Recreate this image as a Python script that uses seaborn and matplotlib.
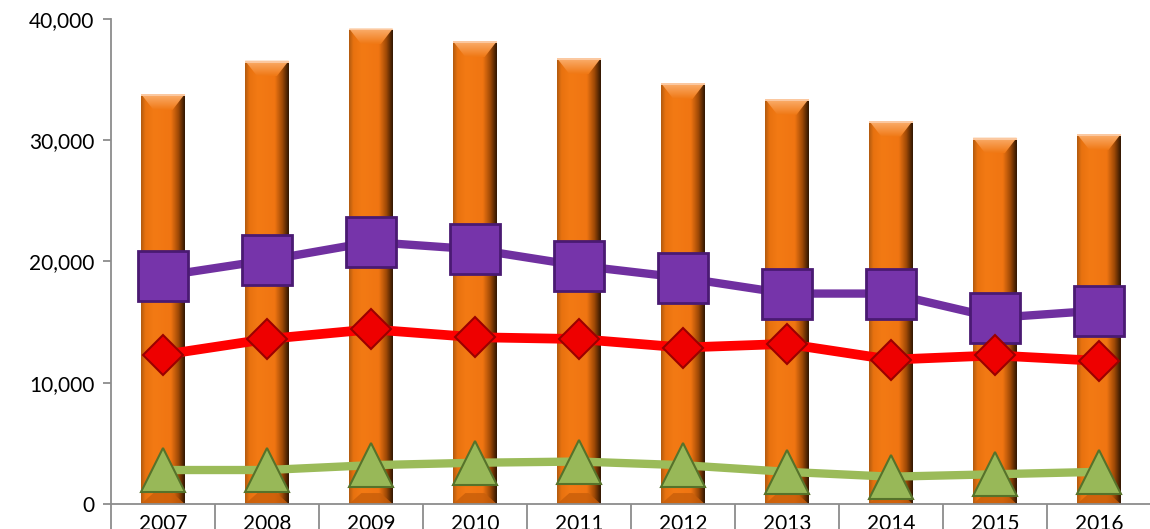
import numpy as np
import pandas as pd
import seaborn as sns
import matplotlib.pyplot as plt
from matplotlib.colors import LinearSegmentedColormap
from matplotlib.patches import Polygon
from matplotlib.ticker import FuncFormatter, FixedLocator

years = ["2007", "2008", "2009", "2010", "2011", "2012", "2013", "2014", "2015", "2016"]
bar_values = [33800, 36550, 39200, 38150, 36750, 34700, 33400, 31600, 30200, 30500]
purple_values = [18800, 20100, 21600, 21000, 19650, 18650, 17350, 17350, 15350, 15950]
red_values = [12300, 13600, 14400, 13750, 13600, 12900, 13200, 11900, 12250, 11800]
green_values = [2800, 2800, 3200, 3400, 3500, 3200, 2650, 2250, 2450, 2650]

df = pd.DataFrame({"year": years, "bars": bar_values, "purple": purple_values,
                   "red": red_values, "green": green_values})

sns.set_style("white")
plt.rcParams["font.family"] = ["Lato", "DejaVu Sans"]

fig = plt.figure(figsize=(11.5, 5.29), dpi=100)
ax = fig.add_axes([0.0965, 0.0473, 0.9043, 0.917])

# orange bars
sns.barplot(data=df, x="year", y="bars", color="#F07814", width=0.42,
            saturation=1, ax=ax, zorder=1)

# shaded "3D" look for bars
cmap = LinearSegmentedColormap.from_list(
    "bar", [(0.0, "#b05a10"), (0.1, "#e8720f"), (0.3, "#f37a14"),
            (0.68, "#f07512"), (0.85, "#a04a06"), (1.0, "#2e1502")])
top_cmap = LinearSegmentedColormap.from_list("top", ["#f07814", "#fbb070"])
grad = np.linspace(0, 1, 256).reshape(1, -1)
vgrad = np.linspace(0, 1, 64).reshape(-1, 1)
for p in list(ax.patches):
    x0, y0 = p.get_x(), p.get_y()
    w, h = p.get_width(), p.get_height()
    im = ax.imshow(grad, cmap=cmap, aspect="auto", extent=[x0, x0 + w, y0, y0 + h],
                   zorder=1.5, interpolation="bicubic")
    im.set_clip_path(p)
    bev = 1300
    top = Polygon([[x0, y0 + h], [x0 + w, y0 + h], [x0 + w * 0.72, y0 + h - bev],
                   [x0 + w * 0.28, y0 + h - bev]], closed=True,
                  facecolor="none", edgecolor="none", zorder=1.6)
    ax.add_patch(top)
    tim = ax.imshow(vgrad, cmap=top_cmap, aspect="auto", origin="lower",
                    extent=[x0, x0 + w, y0 + h - bev, y0 + h], zorder=1.6)
    tim.set_clip_path(top)
    ax.add_patch(Polygon([[x0, y0 + h], [x0 + w, y0 + h], [x0 + w, y0 + h - 150],
                          [x0, y0 + h - 150]], closed=True, facecolor="#fbc8a0",
                         edgecolor="none", zorder=1.7))
    bot = Polygon([[x0, y0], [x0 + w, y0], [x0 + w * 0.72, y0 + 900],
                   [x0 + w * 0.28, y0 + 900]], closed=True,
                  facecolor="#c85e0a", edgecolor="none", alpha=0.8, zorder=1.6)
    ax.add_patch(bot)
ax.set_xlim(-0.5, 9.5)

# lines with markers
sns.pointplot(data=df, x="year", y="purple", color="#7030A0", markers="s",
              errorbar=None, ax=ax, markersize=36, linewidth=6,
              markerfacecolor="#7634aa", markeredgecolor="#4a1a72",
              markeredgewidth=2)
sns.pointplot(data=df, x="year", y="red", color="#FF0000", markers="D",
              errorbar=None, ax=ax, markersize=20, linewidth=7,
              markerfacecolor="#ee0000", markeredgecolor="#9a0000",
              markeredgewidth=1.5)
sns.pointplot(data=df, x="year", y="green", color="#9BBB59", markers="^",
              errorbar=None, ax=ax, markersize=32, linewidth=6,
              markerfacecolor="#98b858", markeredgecolor="#56722a",
              markeredgewidth=1.5)
for i, ln in enumerate(ax.lines):
    ln.set_zorder(3 + i)

ax.set_ylim(0, 40000)
ax.set_yticks([0, 10000, 20000, 30000, 40000])
ax.yaxis.set_major_formatter(FuncFormatter(lambda v, _: f"{int(v):,}"))
ax.set_xlabel("")
ax.set_ylabel("")

for s in ["top", "right"]:
    ax.spines[s].set_visible(False)
for s in ["left", "bottom"]:
    ax.spines[s].set_color("#8c8c8c")
    ax.spines[s].set_linewidth(1.3)
    ax.spines[s].set_zorder(10)

ax.tick_params(axis="y", direction="out", length=6, width=1.3, color="#8c8c8c",
               labelsize=15, labelcolor="black", pad=6, left=True)
ax.xaxis.set_minor_locator(FixedLocator(np.arange(-0.5, 10, 1)))
ax.tick_params(axis="x", which="major", length=0, labelsize=15,
               labelcolor="black", pad=7)
ax.tick_params(axis="x", which="minor", direction="out", length=30, width=1.3,
               color="#8c8c8c", bottom=True)

fig.savefig("out.png", dpi=100)
